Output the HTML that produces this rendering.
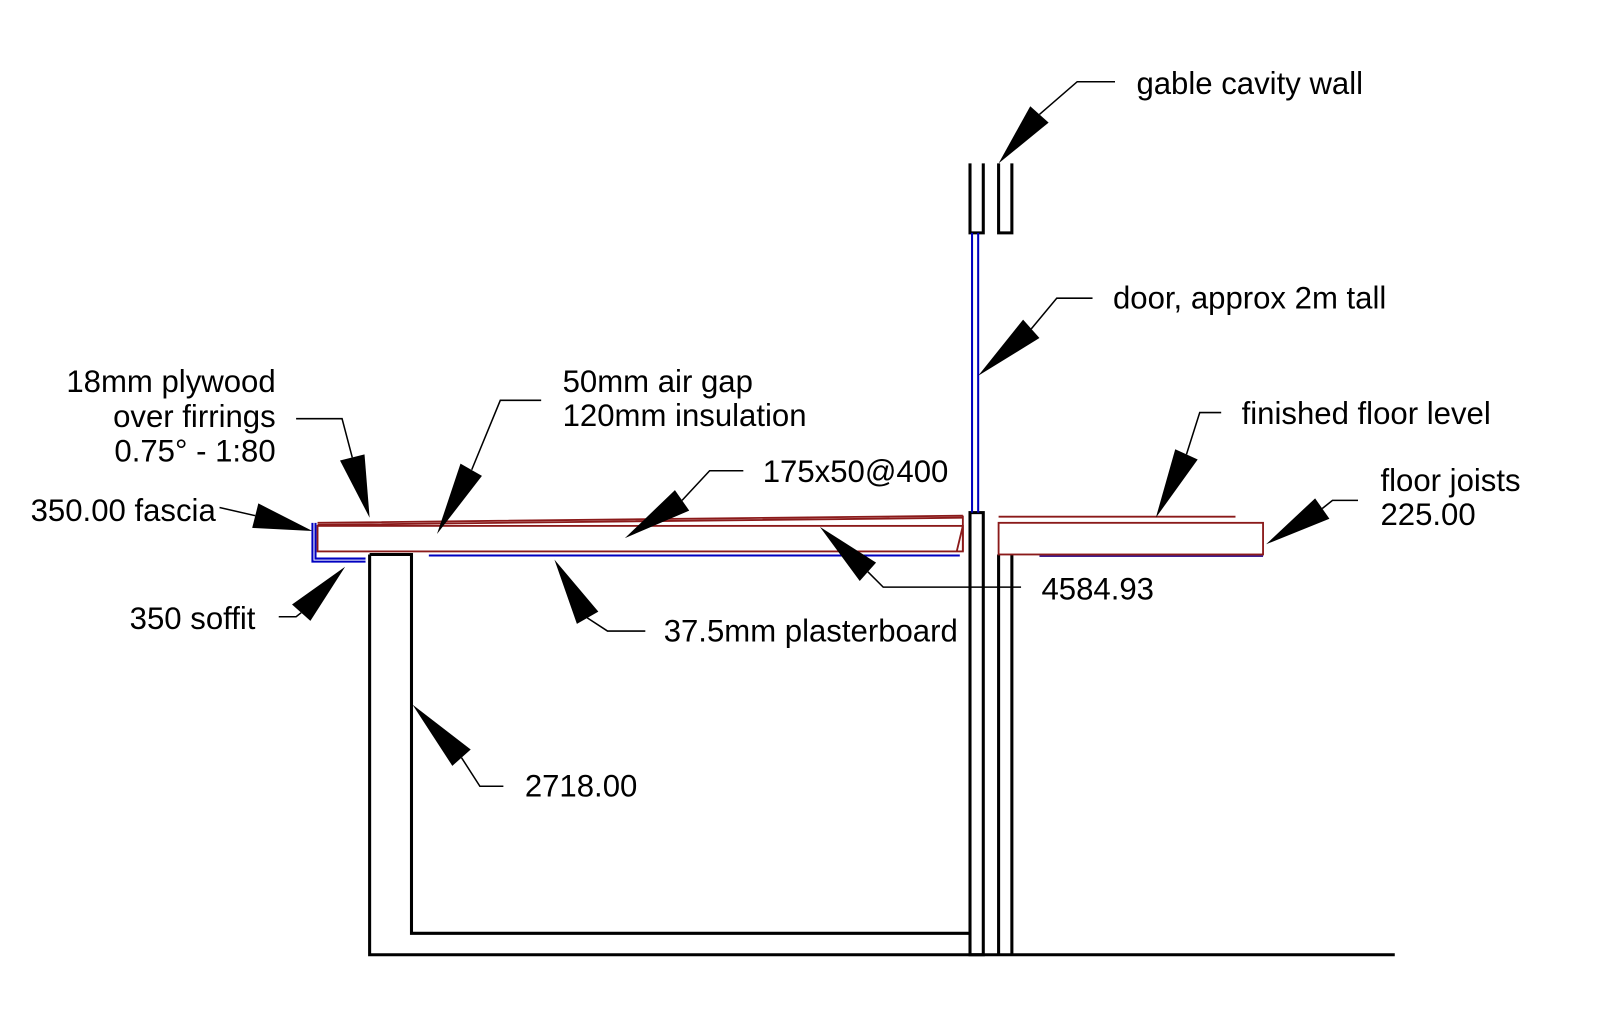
<!DOCTYPE html>
<html><head><style>html,body{margin:0;padding:0;background:#fff}svg{display:block}text{font-family:"Liberation Sans",sans-serif;font-size:30.5px;fill:#000}</style></head>
<body>
<svg width="1600" height="1014" viewBox="0 0 1567 993" xmlns="http://www.w3.org/2000/svg">
<g fill="none" stroke="#000" stroke-width="3">
<path d="M362 543V935H1366"/>
<path d="M362 543H403V914H950"/>
<rect x="950" y="502" width="13" height="433"/>
<path d="M978 543V935M991 543V935"/>
<path d="M950 160V228H963V160M978 160V228H991V160"/>
</g>
<g fill="none" stroke="#0000c0" stroke-width="2">
<path d="M952 228V502M958 228V502"/>
<path d="M306 512V550H358M309 512V547H358"/>
<path d="M420 544H940"/>
<path d="M1018 544H1237" stroke="#402090" stroke-width="3"/>
</g>
<g fill="none" stroke="#8b1a1a" stroke-width="1.8">
<rect x="311" y="515" width="632" height="25"/>
<path d="M311 512L943 505M311 514L943 507"/>
<path d="M943 515L937 540M943 505V540"/>
<rect x="978" y="512" width="259" height="31"/>
<path d="M978 506H1210"/>
</g>
<g fill="none" stroke="#000" stroke-width="1.5">
<path d="M1092 80H1055L1018 112"/>
<path d="M1070 292H1035L1010 322"/>
<path d="M290 410H335L345 448"/>
<path d="M530 392H490L462 460"/>
<path d="M728 461H695L668 490"/>
<path d="M215 497L250 505"/>
<path d="M273 604H290L295 600"/>
<path d="M632 618H595L575 605"/>
<path d="M1000 575H865L850 560"/>
<path d="M1196 404H1175L1162 445"/>
<path d="M1330 490H1305L1295 498"/>
<path d="M493 770H470L452 742"/>
</g>
<g fill="#000">
<polygon points="1027,120 1009,104 978,160"/>
<polygon points="1018,331 1002,313 958,368"/>
<polygon points="357,445 333,451 362,507"/>
<polygon points="472,466 451,454 428,523"/>
<polygon points="675,500 661,480 612,527"/>
<polygon points="253,493 247,517 306,520"/>
<polygon points="304,608 286,592 338,555"/>
<polygon points="586,599 565,611 543,548"/>
<polygon points="858,551 842,569 803,516"/>
<polygon points="1173,450 1151,440 1132,507"/>
<polygon points="1302,508 1288,488 1240,533"/>
<polygon points="461,734 443,750 404,690"/>
</g>
<text x="1113" y="92">gable cavity wall</text>
<text x="1090" y="302">door, approx 2m tall</text>
<text x="270" y="384" text-anchor="end">18mm plywood</text>
<text x="270" y="418" text-anchor="end">over firrings</text>
<text x="270" y="452" text-anchor="end">0.75° - 1:80</text>
<text x="551" y="384">50mm air gap</text>
<text x="551" y="417">120mm insulation</text>
<text x="747" y="472">175x50@400</text>
<text x="1216" y="415">finished floor level</text>
<text x="1352" y="481">floor joists</text>
<text x="1352" y="514">225.00</text>
<text x="30" y="510">350.00 fascia</text>
<text x="127" y="616">350 soffit</text>
<text x="650" y="628">37.5mm plasterboard</text>
<text x="1020" y="587">4584.93</text>
<text x="514" y="780">2718.00</text>
</svg>
</body></html>
